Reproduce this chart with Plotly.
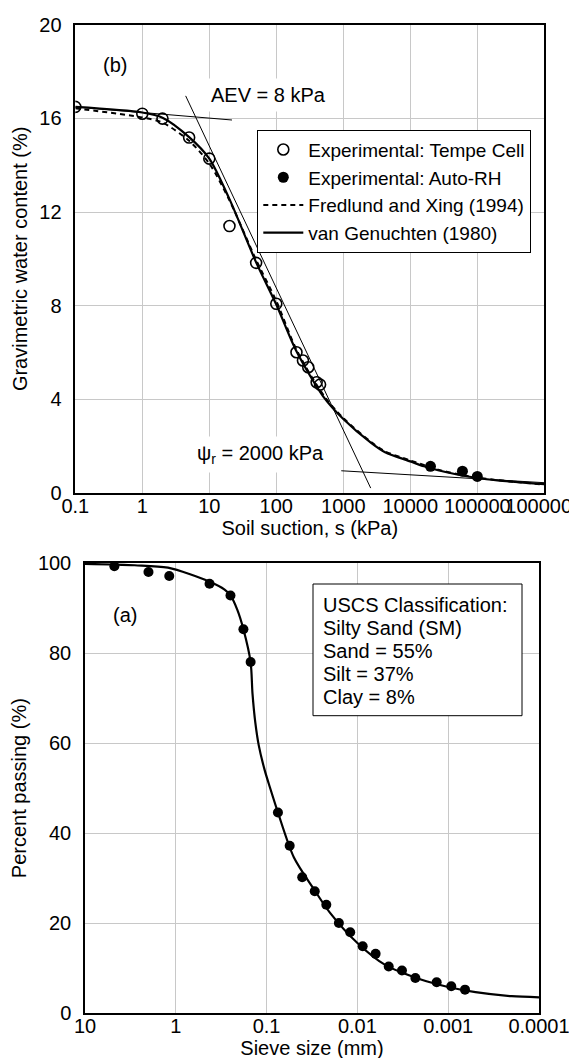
import plotly.graph_objects as go

# ---------------- Panel (b): soil-water characteristic curve ----------------
tempe_suction = [0.1, 1, 2, 5, 10, 20, 50, 100, 200, 250, 300, 400, 450]
tempe_w = [16.49, 16.2, 15.99, 15.18, 14.28, 11.40, 9.83, 8.08, 6.01, 5.66, 5.37, 4.73, 4.63]

autorh_suction = [20000, 60000, 100000]
autorh_w = [1.14, 0.93, 0.71]

vg_suction = [0.1, 1, 2, 5, 10, 20, 50, 100, 200, 500, 1000, 2600, 4200, 10000,
              16000, 26000, 52000, 100000, 200000, 1000000]
vg_w = [16.49, 16.25, 16.03, 15.2, 14.28, 12.55, 9.85, 8.05, 6.05, 4.13, 3.16, 2.14,
        1.74, 1.35, 1.14, 0.97, 0.78, 0.64, 0.54, 0.38]

fx_suction = [0.1, 1, 2, 5, 10, 20, 50, 100, 200, 500, 1000, 2600, 4200, 10000,
              26000, 52000, 100000, 200000, 1000000]
fx_w = [16.43, 16.04, 15.82, 15.04, 14.07, 12.5, 9.95, 8.2, 6.12, 4.2, 3.2, 2.18,
        1.78, 1.39, 1.0, 0.8, 0.66, 0.55, 0.36]

aev_tangent_s = [0.1, 21.8]
aev_tangent_w = [16.49, 15.93]
steep_tangent_s = [4.44, 2564]
steep_tangent_w = [16.96, 0.21]
resid_tangent_s = [933, 1000000]
resid_tangent_w = [0.95, 0.44]

suction_ticks = [0.1, 1, 10, 100, 1000, 10000, 100000, 1000000]
suction_ticktext = ["0.1", "1", "10", "100", "1000", "10000", "100000", "1000000"]
w_ticks = [0, 4, 8, 12, 16, 20]

# ---------------- Panel (a): grain-size distribution ----------------
sieve_d = [4.75, 2.0, 1.18, 0.425, 0.25, 0.18, 0.15, 0.075, 0.0557, 0.0405, 0.0295,
           0.022, 0.016, 0.012, 0.00875, 0.0063, 0.00452, 0.00323, 0.0023, 0.00134,
           0.000925, 0.000653]
sieve_p = [99.3, 98.0, 97.1, 95.4, 92.8, 85.3, 78.0, 44.6, 37.2, 30.2, 27.1, 24.1,
           20.05, 18.0, 14.9, 13.2, 10.4, 9.5, 7.85, 6.9, 6.0, 5.25]

fit_d = [10, 2.84, 1.22, 0.43, 0.29, 0.25, 0.21, 0.18, 0.15, 0.143, 0.133, 0.122,
         0.105, 0.092, 0.075, 0.05, 0.03, 0.02, 0.01, 0.005, 0.002, 0.001, 0.0005,
         0.0002, 0.0001]
fit_p = [99.8, 99.5, 98.96, 95.9, 94.1, 92.8, 89.6, 85.3, 78.0, 71.0, 64.5, 59.5,
         54.0, 50.2, 44.6, 34.6, 27.5, 22.3, 15.6, 10.8, 7.5, 5.85, 4.7, 3.8, 3.55]

sieve_ticks = [10, 1, 0.1, 0.01, 0.001, 0.0001]
sieve_ticktext = ["10", "1", "0.1", "0.01", "0.001", "0.0001"]
p_ticks = [0, 20, 40, 60, 80, 100]

uscs_lines = ["USCS Classification:", "Silty Sand (SM)", "Sand = 55%", "Silt = 37%", "Clay = 8%"]

# ---------------- layout helpers ----------------
W, H = 577, 1058
FONT = "Liberation Sans, Arial, sans-serif"


def px(x):
    return x / W


def py(y):
    return 1 - y / H


fig = go.Figure()

# panel (b) traces
fig.add_trace(go.Scatter(x=aev_tangent_s, y=aev_tangent_w, mode="lines",
                         line=dict(color="black", width=1), showlegend=False,
                         xaxis="x", yaxis="y", hoverinfo="skip"))
fig.add_trace(go.Scatter(x=steep_tangent_s, y=steep_tangent_w, mode="lines",
                         line=dict(color="black", width=1), showlegend=False,
                         xaxis="x", yaxis="y", hoverinfo="skip"))
fig.add_trace(go.Scatter(x=resid_tangent_s, y=resid_tangent_w, mode="lines",
                         line=dict(color="black", width=1), showlegend=False,
                         xaxis="x", yaxis="y", hoverinfo="skip"))
fig.add_trace(go.Scatter(x=tempe_suction, y=tempe_w, mode="markers",
                         name="Experimental: Tempe Cell",
                         marker=dict(symbol="circle-open", size=11, color="black",
                                     line=dict(width=1.6, color="black")),
                         xaxis="x", yaxis="y"))
fig.add_trace(go.Scatter(x=autorh_suction, y=autorh_w, mode="markers",
                         name="Experimental: Auto-RH",
                         marker=dict(symbol="circle", size=11, color="black"),
                         xaxis="x", yaxis="y"))
fig.add_trace(go.Scatter(x=fx_suction, y=fx_w, mode="lines",
                         name="Fredlund and Xing (1994)",
                         line=dict(color="black", width=2, dash="5px,4px", shape="spline", smoothing=0.8),
                         xaxis="x", yaxis="y"))
fig.add_trace(go.Scatter(x=vg_suction, y=vg_w, mode="lines",
                         name="van Genuchten (1980)",
                         line=dict(color="black", width=2.2, shape="spline", smoothing=0.8),
                         xaxis="x", yaxis="y"))

# panel (a) traces
fig.add_trace(go.Scatter(x=fit_d, y=fit_p, mode="lines", showlegend=False,
                         line=dict(color="black", width=2.2, shape="spline", smoothing=0.8),
                         xaxis="x2", yaxis="y2"))
fig.add_trace(go.Scatter(x=sieve_d, y=sieve_p, mode="markers", showlegend=False,
                         marker=dict(symbol="circle", size=10, color="black"),
                         xaxis="x2", yaxis="y2"))

axis_common = dict(
    showline=True, linecolor="black", linewidth=1.5, mirror=True,
    showgrid=True, gridcolor="#c8c8c8", gridwidth=1,
    ticks="", zeroline=False, automargin=False,
    tickfont=dict(family=FONT, size=20, color="black"),
)

fig.update_layout(
    width=W, height=H,
    margin=dict(l=0, r=0, t=0, b=0),
    paper_bgcolor="white", plot_bgcolor="white",
    font=dict(family=FONT, size=20, color="black"),
    xaxis=dict(axis_common, type="log", domain=[px(67.3), px(536.3)], anchor="y",
               range=[-1, 6], tickvals=suction_ticks, ticktext=suction_ticktext,
               tickangle=0, ticklabelstandoff=-6,
               title=dict(text="Soil suction, s (kPa)", standoff=4,
                          font=dict(family=FONT, size=20))),
    yaxis=dict(axis_common, domain=[py(485), py(16.7)], anchor="x",
               range=[0, 20], tickvals=w_ticks, ticklabelstandoff=8,
               title=dict(text="Gravimetric water content (%)", standoff=6,
                          font=dict(family=FONT, size=20))),
    xaxis2=dict(axis_common, type="log", domain=[px(77), px(531)], anchor="y2",
                range=[1, -4], tickvals=sieve_ticks, ticktext=sieve_ticktext,
                tickangle=0, ticklabelstandoff=-6,
                title=dict(text="Sieve size (mm)", standoff=4,
                           font=dict(family=FONT, size=20))),
    yaxis2=dict(axis_common, domain=[py(1005.3), py(555)], anchor="x2",
                range=[0, 100], tickvals=p_ticks, ticklabelstandoff=8,
                title=dict(text="Percent passing (%)", standoff=6,
                           font=dict(family=FONT, size=20))),
    legend=dict(x=px(249.3), y=py(121.7), xanchor="left", yanchor="top",
                bgcolor="white", bordercolor="black", borderwidth=1,
                font=dict(family=FONT, size=19, color="black"),
                tracegroupgap=0, itemwidth=40),
    showlegend=True,
)

annotations = [
    dict(text="(b)", x=px(107.3), y=py(56.7)),
    dict(text="AEV = 8 kPa", x=px(260.6), y=py(87), bgcolor="white", borderpad=5),
    dict(text="\u03c8<sub>r</sub> = 2000 kPa", x=px(252.5), y=py(446.7), bgcolor="white", borderpad=5),
    dict(text="(a)", x=px(116.7), y=py(606.7)),
]
for a in annotations:
    a.update(xref="paper", yref="paper", showarrow=False, xanchor="center", yanchor="middle",
             font=dict(family=FONT, size=20, color="black"))
    fig.add_annotation(**a)

for i, line in enumerate(uscs_lines):
    fig.add_annotation(text=line, x=px(313.3), y=py(596.7 + 23 * i), xref="paper", yref="paper",
                       showarrow=False, xanchor="left", yanchor="middle",
                       font=dict(family=FONT, size=20, color="black"))

fig.add_shape(type="rect", xref="paper", yref="paper",
              x0=px(305), x1=px(514), y0=py(707.7), y1=py(576),
              line=dict(color="black", width=1), fillcolor="white", layer="above")

fig.write_html("out.html")
